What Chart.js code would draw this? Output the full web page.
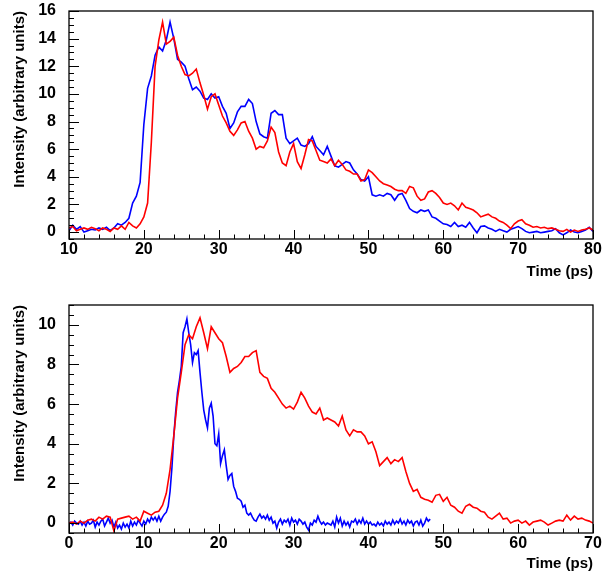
<!DOCTYPE html>
<html>
<head>
<meta charset="utf-8">
<script src="https://cdn.jsdelivr.net/npm/chart.js@4.4.1/dist/chart.umd.min.js"></script>
<style>
  body { margin: 0; background: #fff; }
  .panel { position: absolute; left: 0; }
  canvas { display: block; }
</style>
</head>
<body>
<div class="panel" style="top:0px"><canvas id="top-chart" width="605" height="290"></canvas></div>
<div class="panel" style="top:290px"><canvas id="bottom-chart" width="605" height="284"></canvas></div>
<script>
// top panel: samples every 0.5 ps starting at 10 ps
const topStart = 10;
const topStep = 0.5;
const topRed = [
    0.3, 0.4, 0.1, 0.2, 0.3, 0.2, 0.35, 0.25, 0.1, 0.3,
    0.2, 0.05, 0.3, 0.2, 0.45, 0.2, 0.7, 0.45, 0.3, 0.6,
    1.1, 2.1, 6.5, 12.0, 13.9, 15.2, 13.6, 13.8, 14.1, 12.8,
    12.0, 11.4, 11.3, 11.5, 11.8, 10.8, 9.9, 8.9, 9.8, 10.0,
    9.2, 8.4, 7.9, 7.3, 7.0, 7.4, 7.9, 8.0, 7.3, 6.8,
    6.0, 6.2, 6.1, 6.6, 7.6, 7.2, 5.8, 5.0, 4.8, 5.8,
    6.4, 5.1, 4.6, 5.6, 6.7, 6.6, 5.9, 5.2, 5.1, 5.0,
    5.3, 4.8, 5.2, 4.9, 4.5, 4.4, 4.2, 4.2, 3.7, 3.8,
    4.5, 4.3, 4.0, 3.7, 3.5, 3.4, 3.3, 3.1, 3.0, 3.0,
    2.8, 3.3, 3.2, 2.6, 2.3, 2.4, 2.9, 3.0, 2.8, 2.5,
    2.1, 2.0, 2.1, 1.9, 1.6, 2.1, 1.8, 1.7, 1.6, 1.4,
    1.1, 1.2, 1.3, 1.1, 1.0, 0.8, 0.7, 0.5, 0.25, 0.6,
    0.8, 0.9, 0.6, 0.5, 0.35, 0.4, 0.3, 0.35, 0.25, 0.3,
    0.2, 0.1, 0.05, 0.2, 0.0, 0.15, 0.05, 0.15, 0.2, 0.3,
    0.15
];
const topBlue = [
    0.1, 0.5, 0.2, 0.4, 0.0, 0.1, 0.2, 0.15, 0.3, 0.2,
    0.35, 0.1, 0.3, 0.6, 0.5, 0.7, 1.0, 2.1, 2.6, 3.6,
    7.8, 10.4, 11.3, 12.8, 13.4, 13.1, 13.9, 15.2, 14.0, 12.5,
    12.3, 12.0, 11.1, 10.3, 10.5, 10.2, 9.7, 9.6, 10.0, 9.7,
    9.8, 9.1, 8.6, 7.5, 7.9, 8.7, 9.1, 9.1, 9.6, 9.3,
    8.0, 7.1, 6.9, 6.8, 8.6, 8.8, 8.5, 8.5, 6.8, 6.4,
    6.6, 6.8, 6.3, 6.2, 6.4, 6.9, 6.2, 5.9, 5.6, 6.2,
    5.5, 4.8, 4.7, 4.9, 5.1, 5.0, 4.5, 4.2, 3.8, 3.7,
    4.0, 2.7, 2.6, 2.7, 2.6, 2.8, 2.7, 2.3, 2.7, 2.8,
    2.3, 1.7, 1.5, 1.4, 1.6, 1.5, 1.6, 1.1, 1.0, 0.8,
    0.6, 0.55, 0.4, 0.7, 0.4, 0.5, 0.35, 0.7, 0.3, -0.05,
    0.4, 0.45, 0.3, 0.2, 0.05, 0.2, 0.1, 0.0, 0.2, 0.3,
    0.4, 0.25, 0.05, -0.05, 0.0, 0.05, -0.05, 0.0, 0.05, 0.1,
    0.25, -0.05, -0.2, -0.05, 0.15, 0.0, -0.05, 0.05, 0.15, 0.35,
    0.05
];

// bottom panel: red every 0.5 ps, blue every 0.25 ps, both from 0 ps
const botRedStep = 0.5;
const botRed = [
    0.0, 0.05, -0.05, 0.1, 0.0, 0.15, 0.2, 0.1, 0.3, 0.2,
    0.35, 0.3, -0.4, 0.2, 0.25, 0.3, 0.35, 0.2, 0.3, 0.1,
    0.6, 0.5, 0.4, 0.55, 0.6, 0.9, 1.5, 2.7, 4.4, 6.3,
    7.6, 9.0, 9.5, 9.3, 9.9, 10.35, 9.6, 8.8, 9.9, 9.6,
    9.3, 9.1, 8.4, 7.6, 7.8, 7.9, 8.1, 8.4, 8.4, 8.6,
    8.7, 7.6, 7.4, 7.3, 6.8, 6.6, 6.3, 6.0, 5.8, 5.9,
    5.75, 6.1, 6.6, 6.3, 5.9, 5.6, 5.5, 5.8, 5.2, 5.3,
    5.2, 5.1, 4.9, 5.4, 4.7, 4.4, 4.7, 4.6, 4.6, 4.4,
    4.0, 4.1, 3.6, 2.9, 3.1, 3.3, 3.0, 3.2, 3.1, 3.3,
    2.6, 2.0, 1.6, 1.7, 1.3, 1.2, 1.15, 1.05, 1.4, 1.45,
    1.1, 1.3, 0.9, 0.8, 0.6, 0.5, 0.85, 0.95, 0.8, 0.75,
    0.6, 0.55, 0.3, 0.2, 0.35, 0.5, 0.2, 0.25, 0.0, 0.1,
    0.15, 0.0, 0.1, -0.1, 0.05, 0.1, 0.15, 0.05, -0.1, 0.0,
    0.1, 0.15, 0.1, 0.4, 0.15, 0.35, 0.2, 0.25, 0.15, 0.1,
    0.0
];
const botBlueStep = 0.25;
const botBlue = [
    0.0, 0.05, -0.1, 0.1, 0.0, -0.05, 0.1, -0.1, 0.05, -0.15,
    0.1, -0.05, 0.0, 0.15, -0.2, 0.05, -0.1, 0.1, 0.2, -0.15,
    0.05, 0.25, 0.0, 0.15, -0.2, 0.05, -0.25, -0.1, -0.3, 0.0,
    -0.2, -0.05, -0.25, 0.1, -0.15, 0.05, -0.1, 0.15, 0.0, -0.15,
    0.1, -0.05, 0.2, 0.05, 0.3, 0.15, 0.3, 0.1, 0.35, 0.1,
    0.3, 0.45, 0.55, 0.85, 1.6, 2.8, 4.4, 5.6, 6.6, 7.2,
    7.9, 9.6, 9.9, 10.3, 9.6, 9.0, 8.1, 8.6, 8.5, 8.7,
    7.6, 6.6, 5.7, 5.2, 4.8, 5.8, 6.05, 5.4, 4.0, 3.9,
    4.5, 3.0, 3.4, 3.7, 2.9, 2.2, 2.4, 2.5, 1.85, 1.6,
    1.25, 1.2, 1.1, 0.8, 0.9, 0.5, 0.4, 0.5, 0.3, 0.15,
    0.1, 0.3, 0.45, 0.25, 0.35, 0.2, 0.4, 0.15, 0.3, 0.0,
    0.1, -0.25, 0.05, 0.2, -0.05, 0.15, 0.05, 0.2, -0.1, 0.25,
    0.05, 0.15, -0.05, 0.2, 0.1, -0.05, 0.05, -0.2, -0.35, 0.0,
    -0.1, 0.15, 0.05, 0.35, 0.1, -0.05, 0.05, -0.1, 0.0, -0.05,
    -0.1, 0.1, -0.2, 0.3, 0.0, 0.25, -0.15, 0.1, -0.1, 0.05,
    -0.2, 0.1, 0.05, 0.2, -0.05, 0.15, 0.0, 0.25, -0.05, 0.1,
    -0.05, 0.05, -0.1, -0.05, -0.15, 0.05, -0.1, 0.0, -0.15, 0.1,
    -0.05, 0.05, -0.1, 0.15, -0.05, 0.1, 0.0, 0.2, -0.05, 0.1,
    -0.1, 0.15, 0.0, 0.1, -0.15, 0.05, 0.1, -0.1, 0.15, -0.15,
    0.0, 0.25, 0.1, 0.2
];

const topXTicks = [10, 20, 30, 40, 50, 60, 70, 80];
const topYTicks = [0, 2, 4, 6, 8, 10, 12, 14, 16];
const botXTicks = [0, 10, 20, 30, 40, 50, 60, 70];
const botYTicks = [0, 2, 4, 6, 8, 10];

const xTitle = 'Time (ps)';
const yTitle = 'Intensity (arbitrary units)';

function toPoints(values, start, step) {
    return values.map((v, i) => ({ x: start + i * step, y: v }));
}

// ROOT-like frame: box round the plot, ticks pointing inwards on bottom and left
const frameTicks = {
    id: 'frameTicks',
    afterDatasetsDraw(chart, args, opts) {
        const { ctx, chartArea: a, scales: { x, y } } = chart;
        ctx.save();
        ctx.strokeStyle = '#000';
        ctx.lineWidth = 1;
        ctx.beginPath();
        const isMajor = (v, m) => Math.abs(v / m - Math.round(v / m)) < 1e-6;
        for (let v = Math.ceil(x.min / opts.xMinor) * opts.xMinor; v <= x.max + 1e-9; v += opts.xMinor) {
            const px = Math.round(x.getPixelForValue(v)) + 0.5;
            ctx.moveTo(px, a.bottom);
            ctx.lineTo(px, a.bottom - (isMajor(v, opts.xMajor) ? 9 : 4.5));
        }
        for (let v = Math.ceil(y.min / opts.yMinor) * opts.yMinor; v <= y.max + 1e-9; v += opts.yMinor) {
            const py = Math.round(y.getPixelForValue(v)) + 0.5;
            ctx.moveTo(a.left, py);
            ctx.lineTo(a.left + (isMajor(v, opts.yMajor) ? 10 : 5), py);
        }
        ctx.stroke();
        ctx.lineWidth = 1.3;
        ctx.strokeRect(a.left, a.top, a.width, a.height);
        ctx.restore();
    }
};

const tickFont = { family: 'Liberation Sans', weight: 'bold', size: 16 };
const titleFont = { family: 'Liberation Sans', weight: 'bold', size: 15 };

function makeChart(id, datasets, xr, yr, xTicks, yTicks, pad, xHeight, xTitlePad) {
    return new Chart(document.getElementById(id).getContext('2d'), {
        type: 'line',
        data: { datasets: datasets },
        options: {
            responsive: false,
            animation: false,
            layout: { padding: pad },
            plugins: {
                legend: { display: false },
                tooltip: { enabled: false },
                frameTicks: { xMinor: 2, xMajor: 10, yMinor: 0.5, yMajor: 2 }
            },
            elements: { point: { radius: 0 }, line: { tension: 0 } },
            scales: {
                x: {
                    type: 'linear',
                    min: xr[0],
                    max: xr[1],
                    grid: { display: false, drawTicks: false },
                    border: { display: false },
                    afterBuildTicks: s => { s.ticks = xTicks.map(v => ({ value: v })); },
                    afterFit: s => { s.height = xHeight; s.paddingLeft = 0; s.paddingRight = 0; },
                    ticks: { font: tickFont, color: '#000', padding: 1, maxRotation: 0 },
                    title: {
                        display: true,
                        text: xTitle,
                        align: 'end',
                        font: titleFont,
                        color: '#000',
                        padding: { top: 0, bottom: xTitlePad }
                    }
                },
                y: {
                    min: yr[0],
                    max: yr[1],
                    grid: { display: false, drawTicks: false },
                    border: { display: false },
                    afterBuildTicks: s => { s.ticks = yTicks.map(v => ({ value: v })); },
                    afterFit: s => { s.width = 69; s.paddingTop = 0; s.paddingBottom = 0; },
                    ticks: { font: tickFont, color: '#000', padding: 13 },
                    title: {
                        display: true,
                        text: yTitle,
                        align: 'end',
                        font: titleFont,
                        color: '#000',
                        padding: { top: 11, bottom: 0 }
                    }
                }
            }
        },
        plugins: [frameTicks]
    });
}

makeChart('top-chart', [
    { data: toPoints(topRed, topStart, topStep), borderColor: '#ff0000', borderWidth: 1.6 },
    { data: toPoints(topBlue, topStart, topStep), borderColor: '#0000ff', borderWidth: 1.6 }
], [10, 80], [-0.5, 16], topXTicks, topYTicks,
   { left: 0, right: 12, top: 11, bottom: 0 }, 51, 9);

makeChart('bottom-chart', [
    { data: toPoints(botRed, 0, botRedStep), borderColor: '#ff0000', borderWidth: 1.6 },
    { data: toPoints(botBlue, 0, botBlueStep), borderColor: '#0000ff', borderWidth: 1.6 }
], [0, 70], [-0.5, 11], botXTicks, botYTicks,
   { left: 0, right: 12, top: 15, bottom: 0 }, 41, 1);
</script>
</body>
</html>
